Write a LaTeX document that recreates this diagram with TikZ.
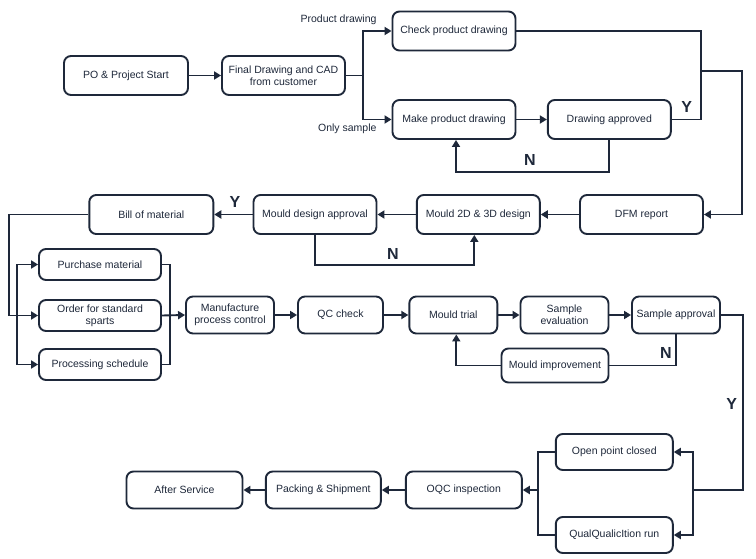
\documentclass[tikz,border=0pt]{standalone}
\usepackage{fontspec}
\setmainfont{Liberation Sans}
\usetikzlibrary{arrows.meta}
\definecolor{ink}{RGB}{30,40,58}
\begin{document}
\begin{tikzpicture}[x=1pt,y=-1pt,
  every node/.style={text=ink},
  box/.style={draw=ink, line width=1.9pt, rounded corners=7pt, align=center,
    inner sep=1pt, font=\fontsize{10.5}{12}\selectfont},
  wide/.style={box, minimum width=123pt, minimum height=39pt},
  mid/.style={box, minimum width=88pt, minimum height=37pt},
  small/.style={box, minimum width=122pt, minimum height=31pt},
  conn/.style={draw=ink, line width=1.9pt},
  arr/.style={conn, -{Triangle[length=7pt,width=8pt]}},
  yn/.style={font=\fontsize{16}{18}\selectfont\bfseries},
  lbl/.style={font=\fontsize{10.5}{12}\selectfont}]
\useasboundingbox[fill=white] (0,0) rectangle (756,559);

% row 1
\node[wide, minimum width=124pt] (po) at (126,75.5) {PO \& Project Start};
\node[wide] (fd) at (283.5,75.5) {Final Drawing and CAD\\from customer};
\node[wide] (check) at (454,31) {Check product drawing};
\node[wide] (make) at (454,119.5) {Make product drawing};
\node[wide] (appr) at (609.3,119.5) {Drawing approved};

% row 2
\node[wide] (dfm) at (641.5,214.5) {DFM report};
\node[wide] (m2d) at (478.3,214.5) {Mould 2D \& 3D design};
\node[wide] (mda) at (315,214.5) {Mould design approval};
\node[wide, minimum width=124pt] (bom) at (151.3,214.5) {Bill of material};

% row 3
\node[small] (pur) at (100,264.5) {Purchase material};
\node[small] (ord) at (100,315.5) {Order for standard\\sparts};
\node[small] (proc) at (100,364.5) {Processing schedule};
\node[mid] (mpc) at (230,315) {Manufacture\\process control};
\node[mid, minimum width=85pt] (qc) at (340.5,315) {QC check};
\node[mid] (mt) at (453.3,315) {Mould trial};
\node[mid] (se) at (564.5,315) {Sample\\evaluation};
\node[mid] (sa) at (676,315) {Sample approval};
\node[box, minimum width=107pt, minimum height=34pt] (mi) at (555,365.5) {Mould improvement};

% row 4
\node[box, minimum width=117pt, minimum height=36pt] (opc) at (614.3,452) {Open point closed};
\node[box, minimum width=117pt, minimum height=36pt] (qr) at (614.3,535) {QualQualicItion run};
\node[box, minimum width=116pt, minimum height=37pt] (oqc) at (463.8,490) {OQC inspection};
\node[box, minimum width=115pt, minimum height=37pt] (pack) at (323.3,490) {Packing \& Shipment};
\node[box, minimum width=116pt, minimum height=37pt] (after) at (184.5,490) {After Service};

% labels
\node[lbl, anchor=east] (lpd) at (380,20) {Product drawing};
\node[lbl, anchor=east] (los) at (380,129) {Only sample};
\node[yn] (y1) at (686.7,107) {Y};
\node[yn] (n1) at (530,160) {N};
\node[yn] (y2) at (235,202) {Y};
\node[yn] (n2) at (393,254) {N};
\node[yn] (n3) at (666,353) {N};
\node[yn] (y3) at (731.7,404) {Y};

% coordinates
\coordinate (split) at (363,75.5);
\coordinate (m1) at (701,71);
\coordinate (r1) at (741.7,71);
\coordinate (nl1) at (609.3,171.7);
\coordinate (nl2) at (315,265);
\coordinate (bl) at (9.3,214.5);
\coordinate (j) at (17.3,315.5);
\coordinate (c) at (170,315.5);
\coordinate (sr) at (742.7,315);
\coordinate (k) at (692.7,490);
\coordinate (l) at (538.3,490);

% row 1 connectors
\draw[arr] (po) -- (fd);
\draw[conn] (fd.east) -- (split);
\draw[arr] (split) |- (check.west);
\draw[arr] (split) |- (make.west);
\draw[arr] (make) -- (appr);
\draw[conn] (check.east) -| (m1);
\draw[conn] (appr.east) -| (m1);
\draw[arr] (m1) -- (r1) |- (dfm.east);
\draw[arr] (appr.south) -- (nl1) -| ([xshift=2pt]make.south);

% row 2 connectors
\draw[arr] (dfm) -- (m2d);
\draw[arr] (m2d) -- (mda);
\draw[arr] (mda) -- (bom);
\draw[arr] (mda.south) -- (nl2) -| ([xshift=-4pt]m2d.south);
\draw[arr] (bom.west) -- (bl) |- (ord.west);
\draw[arr] (j) |- (pur.west);
\draw[arr] (j) |- (proc.west);

% row 3 connectors
\draw[conn] (pur.east) -| (c);
\draw[conn] (proc.east) -| (c);
\draw[arr] (ord.east) -- (mpc.west);
\draw[arr] (mpc) -- (qc);
\draw[arr] (qc) -- (mt);
\draw[arr] (mt) -- (se);
\draw[arr] (se) -- (sa);
\draw[conn] (sa.south) |- (mi.east);
\draw[arr] (mi.west) -| ([xshift=3pt]mt.south);

% row 4 connectors
\draw[conn] (sa.east) -- (sr) |- (k);
\draw[arr] (k) |- (opc.east);
\draw[arr] (k) |- (qr.east);
\draw[conn] (opc.west) -| (l);
\draw[conn] (qr.west) -| (l);
\draw[arr] (l) -- (oqc.east);
\draw[arr] (oqc) -- (pack);
\draw[arr] (pack) -- (after);
\end{tikzpicture}
\end{document}
